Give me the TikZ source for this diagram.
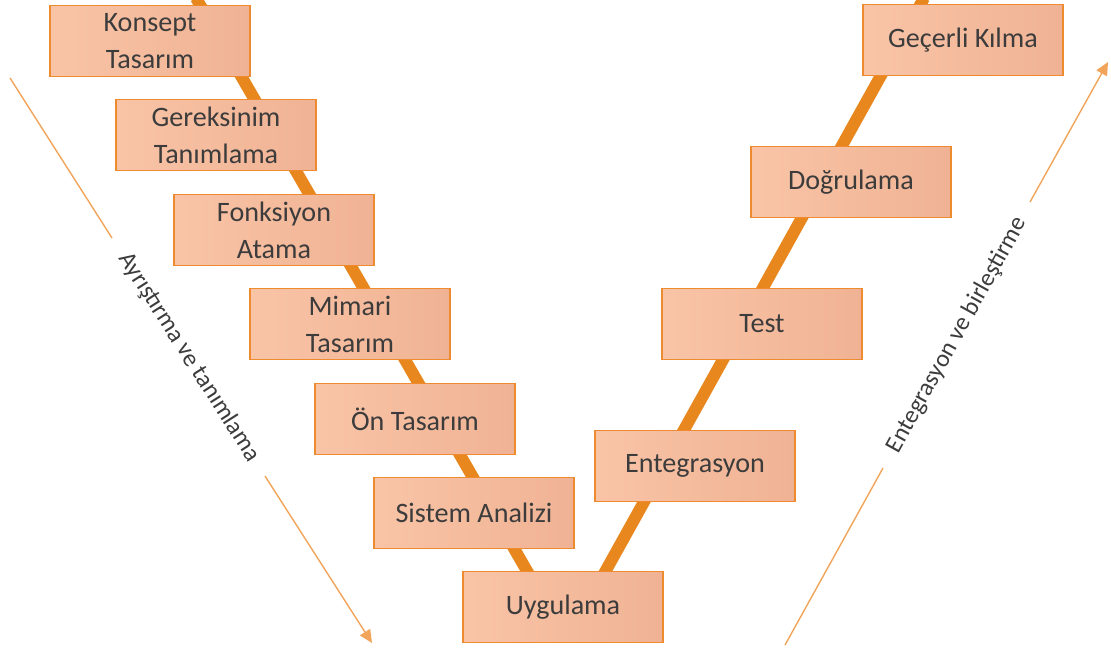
\documentclass[tikz,border=0pt]{standalone}
\usepackage{fontspec}
\setmainfont{Carlito}
\usetikzlibrary{arrows.meta}

\definecolor{vline}{HTML}{E8871E}
\definecolor{boxdraw}{HTML}{EE8A30}
\definecolor{boxleft}{HTML}{F9C4A6}
\definecolor{boxright}{HTML}{F0B294}
\definecolor{thin}{HTML}{F2A55A}
\definecolor{txt}{HTML}{3C3C3C}

\begin{document}
\begin{tikzpicture}[
  x=0.02cm, y=-0.02cm,
  font=\fontsize{16}{21}\selectfont,
  stage/.style={draw=boxdraw,line width=0.9pt,left color=boxleft,right color=boxright,
    minimum width=4cm,minimum height=1.42cm,inner sep=2pt,align=center,text=txt},
  vee/.style={line width=6.8pt,draw=vline},
  flow/.style={line width=0.8pt,draw=thin},
  flowtip/.style={flow,-{Triangle[length=2.6mm,width=2.4mm]}},
  side/.style={font=\fontsize{14}{16}\selectfont,text=txt}
]
\useasboundingbox (0,0) rectangle (1111,650);

% ---- V line (behind the boxes) ----
\coordinate (vL) at (196,-2);
\coordinate (vB1) at (538,590);
\coordinate (vB2) at (595,590);
\coordinate (vR) at (924,-2);
\draw[vee] (vL) -- (vB1);
\draw[vee] (vB2) -- (vR);

% ---- stages ----
\foreach \n/\x/\y/\t in {
  kon/150/41/{Konsept\\Tasarım},
  ger/216/135/{Gereksinim\\Tanımlama},
  fon/274/230/{Fonksiyon\\Atama},
  mim/350/324/{Mimari\\Tasarım},
  ont/415/419/{Ön Tasarım},
  sis/474/513/{Sistem Analizi},
  uyg/563/607/{Uygulama},
  ent/695/466/{Entegrasyon},
  tst/762/324/{Test},
  dog/851/182/{Doğrulama},
  gec/963/40/{Geçerli Kılma}} {
  \node[stage] (\n) at (\x,\y) {\t};
}

% ---- left arrow: decomposition ----
\coordinate (l0) at (10,78);
\coordinate (l1) at (112,238);
\coordinate (l2) at (265,476);
\coordinate (l3) at (372,643);
\draw[flow] (l0) -- (l1);
\draw[flowtip] (l2) -- (l3);
\node[side,rotate=-57.4] (lbl) at (189,357) {Ayrıştırma ve tanımlama};

% ---- right arrow: integration ----
\coordinate (r0) at (785,645);
\coordinate (r1) at (883,468);
\coordinate (r2) at (1030,202);
\coordinate (r3) at (1108,62);
\draw[flow] (r0) -- (r1);
\draw[flowtip] (r2) -- (r3);
\node[side,rotate=61] (rbl) at (957,335) {Entegrasyon ve birleştirme};

\end{tikzpicture}
\end{document}
